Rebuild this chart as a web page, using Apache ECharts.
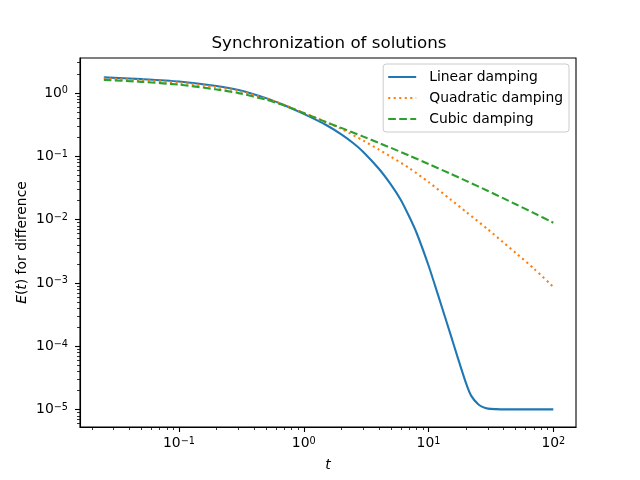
<!DOCTYPE html>
<html>
<head>
<meta charset="utf-8">
<script src="https://cdn.jsdelivr.net/npm/echarts@6/dist/echarts.min.js"></script>
<style>
  html, body { margin: 0; padding: 0; background: #fff; }
  #chart { width: 640px; height: 480px; }
</style>
</head>
<body>
<div id="chart"></div>
<script>
// values
const tLinear = [0.025, 0.05, 0.1, 0.2, 0.3, 0.5, 0.7, 1, 1.5, 2, 2.5, 3, 4, 5, 6, 7, 8, 10, 12, 15, 17, 20, 22, 25, 27, 30, 35, 40, 50, 70, 100];
const eLinear = [1.762, 1.651, 1.513, 1.290, 1.115, 0.828, 0.640, 0.4665, 0.3141, 0.2215, 0.1603, 0.1169, 0.0635, 0.03565, 0.02045, 0.01119, 6.26e-3, 1.888e-3, 6.19e-4, 1.54e-4, 7.0e-5, 2.60e-5, 1.65e-5, 1.213e-5, 1.107e-5, 1.037e-5, 1.018e-5, 1.011e-5, 1.011e-5, 1.011e-5, 1.011e-5];

const tQuad = [0.025, 0.05, 0.1, 0.2, 0.3, 0.5, 0.7, 1, 1.5, 2, 3, 4, 5, 7, 10, 15, 20, 30, 40, 50, 70, 100];
const eQuad = [1.699, 1.592, 1.454, 1.234, 1.075, 0.813, 0.647, 0.4837, 0.3487, 0.2705, 0.1769, 0.1276, 0.0982, 0.0652, 0.0392, 0.02083, 0.01323, 6.98e-3, 4.32e-3, 2.98e-3, 1.681e-3, 8.65e-4];

const tCubic = [0.025, 0.05, 0.1, 0.2, 0.3, 0.5, 0.7, 1, 1.5, 2, 3, 4, 5, 7, 10, 15, 20, 30, 40, 50, 70, 100];
const eCubic = [1.609, 1.496, 1.352, 1.136, 0.993, 0.781, 0.633, 0.4819, 0.3487, 0.2805, 0.2045, 0.1621, 0.1357, 0.1026, 0.0756, 0.05297, 0.04093, 0.02826, 0.02160, 0.01749, 0.01266, 8.93e-3];

const seriesNames = ['Linear damping', 'Quadratic damping', 'Cubic damping'];
const colors = ['#1f77b4', '#ff7f0e', '#2ca02c'];

const xMajor = [0.1, 1, 10, 100];
const yMajor = [1e-5, 1e-4, 1e-3, 1e-2, 1e-1, 1];

const xMin = 0.0161, xMax = 152;
const yMin = 5.32e-6, yMax = 3.56;

// minor ticks at 2..9 x each decade, inside the axis range
function minorTicks(lo, hi, kFrom, kTo) {
    let out = [];
    for (let k = kFrom; k <= kTo; k++) {
        for (let m = 2; m <= 9; m++) {
            let v = Number((m * Math.pow(10, k)).toPrecision(3));
            if (v > lo && v < hi) out.push(v);
        }
    }
    return out;
}
const xMinor = minorTicks(xMin, xMax, -2, 2);
const yMinor = minorTicks(yMin, yMax, -6, 0);

const font = 'DejaVu Sans';

function powLabel(v) {
    let lg = Math.log10(v);
    let e = Math.round(lg);
    if (Math.abs(lg - e) > 1e-6) return '';
    return '{b|10}{s|' + (e < 0 ? '\u2212' + (-e) : e) + '}';
}

const labelRich = {
    b: { fontSize: 13.9, fontFamily: font, color: '#000', verticalAlign: 'bottom', lineHeight: 14 },
    s: { fontSize: 9.7, fontFamily: font, color: '#000', verticalAlign: 'top', lineHeight: 10, padding: [0, 0, 8, 0] }
};

const axisLineStyle = { color: '#000', width: 1.1 };

function majorAxis(min, max, values, margin, extra) {
    return Object.assign({
        type: 'log',
        logBase: 10,
        min: min,
        max: max,
        axisLine: { show: true, lineStyle: axisLineStyle },
        axisTick: { show: true, length: 5, lineStyle: axisLineStyle, customValues: values },
        axisLabel: { formatter: powLabel, rich: labelRich, margin: margin, customValues: values },
        splitLine: { show: false },
        minorTick: { show: false }
    }, extra);
}

function minorAxis(min, max, values, extra) {
    return Object.assign({
        type: 'log',
        logBase: 10,
        min: min,
        max: max,
        axisLine: { show: false },
        axisTick: { show: true, length: 3, lineStyle: { color: '#000', width: 0.8 }, customValues: values },
        axisLabel: { show: false },
        splitLine: { show: false }
    }, extra);
}

function lineSeries(i, ts, es, dash) {
    return {
        name: seriesNames[i],
        type: 'line',
        symbol: 'none',
        smooth: 0.25,
        data: ts.map((t, j) => [t, es[j]]),
        itemStyle: { color: colors[i] },
        lineStyle: { color: colors[i], width: 2.08, type: dash, cap: 'butt' }
    };
}

const chartDom = document.getElementById('chart');
const chart = echarts.init(chartDom);

let option = {
    animation: false,
    backgroundColor: '#fff',
    textStyle: { fontFamily: font },
    title: {
        text: 'Synchronization of solutions',
        left: 324,
        textAlign: 'center',
        top: 30,
        textStyle: { fontFamily: font, fontSize: 16.7, fontWeight: 'normal', color: '#000' }
    },
    grid: {
        left: 80,
        right: 64,
        top: 58,
        bottom: 53,
        show: true,
        borderColor: '#000',
        borderWidth: 1.1,
        backgroundColor: 'transparent'
    },
    legend: {
        orient: 'vertical',
        right: 71,
        top: 64,
        itemWidth: 28,
        itemHeight: 14,
        itemGap: 7,
        padding: [6, 6, 6, 4],
        borderColor: '#cccccc',
        borderWidth: 1,
        borderRadius: 3,
        backgroundColor: 'rgba(255,255,255,0.8)',
        itemStyle: { opacity: 0, borderWidth: 0 },
        textStyle: { fontFamily: font, fontSize: 13.9, color: '#000', padding: [0, 0, 0, 8] },
        data: seriesNames
    },
    xAxis: [
        majorAxis(xMin, xMax, xMajor, 9, {
            position: 'bottom',
            name: 't',
            nameLocation: 'middle',
            nameGap: 31,
            nameMoveOverlap: false,
            nameTextStyle: { fontFamily: font, fontSize: 13.9, fontStyle: 'italic', color: '#000' }
        }),
        minorAxis(xMin, xMax, xMinor, { position: 'bottom' })
    ],
    yAxis: [
        majorAxis(yMin, yMax, yMajor, 12, {
            position: 'left',
            name: '{i|E}({i|t}) for difference',
            nameLocation: 'middle',
            nameGap: 51,
            nameMoveOverlap: false,
            nameTextStyle: {
                fontFamily: font, fontSize: 13.9, color: '#000',
                rich: { i: { fontFamily: font, fontSize: 13.9, fontStyle: 'italic', color: '#000' } }
            }
        }),
        minorAxis(yMin, yMax, yMinor, { position: 'left' })
    ],
    series: [
        lineSeries(0, tLinear, eLinear, 'solid'),
        lineSeries(1, tQuad, eQuad, [2.08, 3.43]),
        lineSeries(2, tCubic, eCubic, [7.7, 3.33])
    ]
};

option && chart.setOption(option);

window.onresize = function () {
    chart.resize();
};
</script>
</body>
</html>
